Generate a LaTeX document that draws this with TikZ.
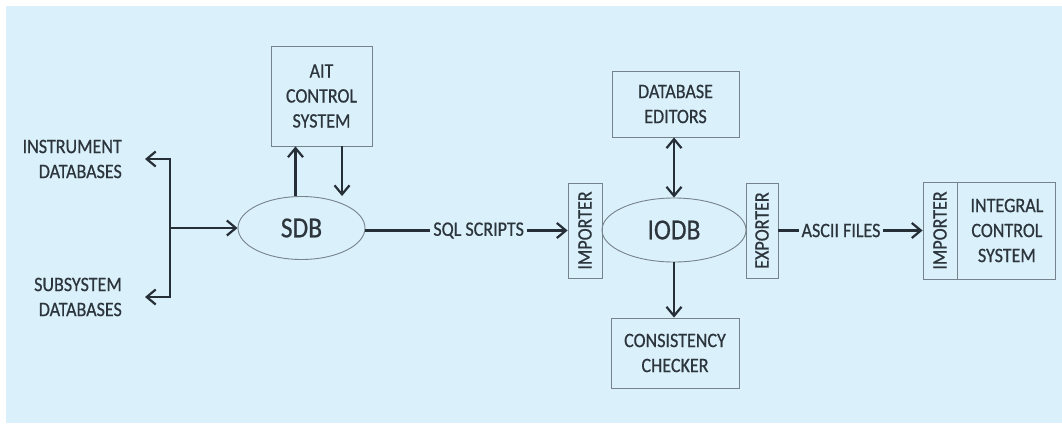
\documentclass[tikz,border=0pt]{standalone}
\usepackage{fontspec}
\setmainfont{Carlito}[FakeStretch=0.88, FakeBold=0.6]
\usepackage{graphicx}
\usetikzlibrary{positioning,arrows.meta,shapes.geometric,calc}
\definecolor{bgblue}{RGB}{218,240,250}
\definecolor{ink}{RGB}{38,46,56}
\definecolor{edge}{RGB}{118,130,140}
\definecolor{txt}{RGB}{44,52,60}

\begin{document}
\begin{tikzpicture}[x=1pt, y=-1pt,
  font=\fontsize{20.5}{25}\selectfont, text=txt,
  box/.style={draw=edge, line width=0.9pt, align=center, inner sep=0pt},
  tag/.style={box, minimum width=34pt, minimum height=95pt},
  db/.style={draw=edge, line width=0.9pt, ellipse, inner sep=0pt, font=\fontsize{29}{30}\selectfont},
  lbl/.style={align=right, inner sep=0pt, anchor=east},
  arr/.style={-{Straight Barb[length=9pt,width=15pt,line width=2.2pt]}, line width=2.4pt, draw=ink},
  darr/.style={arr, {Straight Barb[length=9pt,width=15pt,line width=2.2pt]}-{Straight Barb[length=9pt,width=15pt,line width=2.2pt]}},
  onl/.style={fill=bgblue, inner xsep=3pt, inner ysep=0pt, text=txt}
]
\useasboundingbox (0,0) rectangle (1062,423);
\fill[bgblue] (6,6) rectangle (1062,423);
% sources on the left
\node[lbl] (inst) at (122,159) {INSTRUMENT\\DATABASES};
\node[lbl] (subs) at (122,297) {SUBSYSTEM\\DATABASES};
\coordinate (jn) at (170,228);
% SDB and AIT
\node[db, minimum width=127pt, minimum height=63pt] (sdb) at (301.5,228) {SDB};
\node[box, minimum width=101pt, minimum height=100pt] (ait) at (321.5,96) {AIT\\CONTROL\\SYSTEM};
% IODB with importer/exporter
\node[tag] (imp1) at (585,230.5) {\rotatebox{90}{IMPORTER}};
\node[db, minimum width=144pt, minimum height=64pt] (iodb) at (674,230) {IODB};
\node[tag, minimum width=32pt] (exp) at (762,230.5) {\rotatebox{90}{EXPORTER}};
\node[box, minimum width=127pt, minimum height=66pt] (dbe) at (675.5,104) {DATABASE\\EDITORS};
\node[box, minimum width=128pt, minimum height=70pt] (chk) at (675,353) {CONSISTENCY\\CHECKER};
% integral side
\node[tag, minimum height=97pt] (imp2) at (940,230.5) {\rotatebox{90}{IMPORTER}};
\node[box, minimum width=98pt, minimum height=97pt, anchor=west] (ics) at (imp2.east) {INTEGRAL\\CONTROL\\SYSTEM};
% arrows
\draw[line width=2.4pt, draw=ink] (jn |- inst.east) -- (jn |- subs.east);
\foreach \n in {inst,subs} \draw[arr, shorten >=23pt] (jn) |- (\n.east);
\draw[arr] (jn) -- (sdb.west);
\draw[arr] ([xshift=-26pt]ait.south |- sdb.north) -- ([xshift=-26pt]ait.south);
\draw[arr] ([xshift=20.5pt]ait.south) -- ([xshift=20.5pt]ait.south |- sdb.north);
\draw[arr] (sdb.east |- imp1.west) -- node[onl, pos=0.56] {SQL SCRIPTS} (imp1.west);
\draw[darr] (dbe.south -| iodb.north) -- (iodb.north);
\draw[arr] (iodb.south) -- (chk.north -| iodb.south);
\draw[arr] (exp.east) -- node[onl, pos=0.434] {ASCII FILES} (imp2.west);
\end{tikzpicture}
\end{document}
